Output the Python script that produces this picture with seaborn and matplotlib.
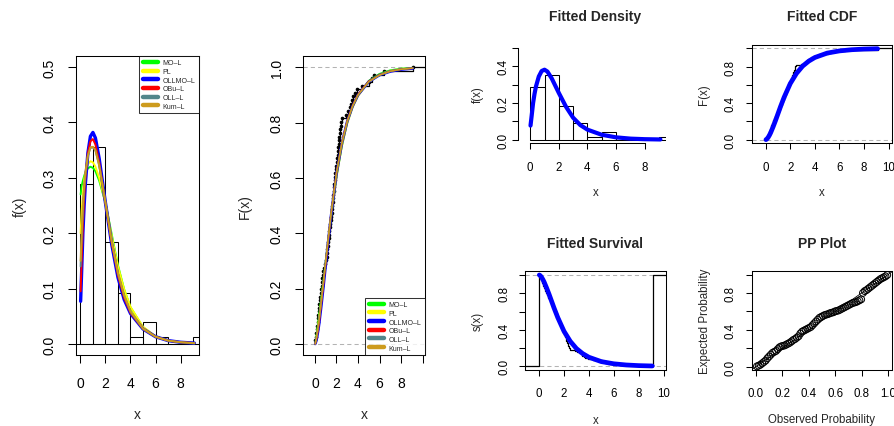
import numpy as np
import matplotlib
matplotlib.use("Agg")
import matplotlib.pyplot as plt
import seaborn as sns
from matplotlib.lines import Line2D

# ---- data ----
sample = [0.04, 0.07, 0.13, 0.15, 0.21, 0.24, 0.26, 0.31, 0.33, 0.39, 0.41,
          0.47, 0.49, 0.55, 0.57, 0.61, 0.66, 0.68, 0.75, 0.79, 0.88, 0.94,
          1.03, 1.08, 1.11, 1.16, 1.19, 1.22, 1.28, 1.31, 1.34, 1.40, 1.43,
          1.47, 1.52, 1.55, 1.57, 1.61, 1.64, 1.68, 1.70, 1.73, 1.77, 1.79,
          1.83, 1.85, 1.90, 1.93, 1.97,
          2.03, 2.06, 2.10, 2.13, 2.17, 2.20, 2.24, 2.27, 2.31, 2.35, 2.38,
          2.42, 2.48, 2.86,
          3.08, 3.22, 3.35, 3.47, 3.58, 3.71, 3.93,
          4.35, 5.05, 5.28, 5.52, 6.45, 9.12]
hist_breaks = [0, 1, 2, 3, 4, 5, 6, 7, 8, 9, 10]

x_grid = [0.02, 0.1, 0.2, 0.3, 0.4, 0.6, 0.8, 1.0, 1.2, 1.5, 2.0, 2.5, 3.0,
          3.5, 4.0, 5.0, 6.0, 7.0, 8.0, 9.1]

models = ["MO\u2013L", "PL", "OLLMO\u2013L", "OBu\u2013L", "OLL\u2013L", "Kum\u2013L"]
model_colors = ["#00FF00", "#FFFF00", "#0000FF", "#FF0000", "#53868B", "#CD9B1D"]

pdf_mol = [0.27, 0.285, 0.295, 0.303, 0.31, 0.317, 0.32, 0.318, 0.312, 0.295, 0.255,
           0.198, 0.142, 0.098, 0.066, 0.03, 0.013, 0.006, 0.0025, 0.001]
pdf_pl = [0.2, 0.24, 0.27, 0.295, 0.31, 0.325, 0.33, 0.328, 0.32, 0.3, 0.255,
          0.195, 0.14, 0.098, 0.067, 0.031, 0.014, 0.006, 0.0025, 0.001]
pdf_ollmo = [0.077, 0.13, 0.2, 0.25, 0.29, 0.345, 0.375, 0.382, 0.372, 0.335, 0.255,
             0.18, 0.12, 0.08, 0.055, 0.027, 0.013, 0.006, 0.003, 0.0015]
pdf_obu = [0.095, 0.15, 0.215, 0.265, 0.3, 0.345, 0.366, 0.37, 0.36, 0.328, 0.255,
           0.183, 0.124, 0.083, 0.056, 0.027, 0.013, 0.006, 0.003, 0.0015]
pdf_oll = [0.14, 0.19, 0.24, 0.28, 0.305, 0.34, 0.354, 0.355, 0.35, 0.323, 0.256,
           0.186, 0.128, 0.087, 0.058, 0.027, 0.013, 0.006, 0.003, 0.0013]
pdf_kum = [0.15, 0.2, 0.25, 0.285, 0.31, 0.34, 0.355, 0.356, 0.35, 0.322, 0.255,
           0.185, 0.128, 0.087, 0.059, 0.028, 0.013, 0.006, 0.003, 0.0013]

cdf_mol = [0.0, 0.023, 0.052, 0.082, 0.112, 0.175, 0.239, 0.303, 0.366, 0.458, 0.6,
           0.712, 0.797, 0.857, 0.898, 0.952, 0.977, 0.99, 0.996, 0.999]
cdf_pl = [0.0, 0.018, 0.044, 0.072, 0.102, 0.165, 0.23, 0.297, 0.362, 0.456, 0.6,
          0.712, 0.795, 0.853, 0.895, 0.948, 0.974, 0.988, 0.995, 0.998]
cdf_ollmo = [0.0, 0.008, 0.025, 0.048, 0.075, 0.14, 0.21, 0.285, 0.36, 0.465, 0.615,
             0.725, 0.805, 0.86, 0.9, 0.948, 0.972, 0.985, 0.992, 0.996]
cdf_obu = [0.0, 0.01, 0.028, 0.052, 0.08, 0.148, 0.218, 0.292, 0.365, 0.47, 0.617,
           0.727, 0.807, 0.862, 0.902, 0.95, 0.973, 0.986, 0.993, 0.997]
cdf_oll = [0.0, 0.013, 0.035, 0.061, 0.09, 0.156, 0.226, 0.297, 0.368, 0.47, 0.616,
           0.725, 0.804, 0.86, 0.9, 0.948, 0.972, 0.986, 0.993, 0.997]
cdf_kum = [0.0, 0.014, 0.036, 0.063, 0.093, 0.158, 0.228, 0.3, 0.37, 0.472, 0.617,
           0.726, 0.805, 0.86, 0.9, 0.948, 0.972, 0.986, 0.993, 0.997]

pp_expected = [0.003, 0.01, 0.02, 0.035, 0.05, 0.065, 0.09, 0.11, 0.13, 0.15,
               0.16, 0.17, 0.19, 0.21, 0.22, 0.225, 0.23, 0.24, 0.25, 0.26,
               0.275, 0.29, 0.30, 0.315, 0.33, 0.36, 0.38, 0.39, 0.40, 0.41,
               0.42, 0.43, 0.45, 0.47, 0.49, 0.51, 0.53, 0.54, 0.55, 0.56,
               0.565, 0.57, 0.58, 0.585, 0.59, 0.60, 0.605, 0.61, 0.62, 0.63,
               0.64, 0.65, 0.66, 0.67, 0.68, 0.69, 0.695, 0.70, 0.71, 0.72,
               0.73, 0.80, 0.82, 0.83, 0.845, 0.86, 0.875, 0.89, 0.905, 0.92,
               0.935, 0.95, 0.96, 0.97, 0.98, 0.995]

pdfs = [pdf_mol, pdf_pl, pdf_ollmo, pdf_obu, pdf_oll, pdf_kum]
cdfs = [cdf_mol, cdf_pl, cdf_ollmo, cdf_obu, cdf_oll, cdf_kum]
model_lw = [1.4, 1.4, 2.4, 1.4, 1.4, 1.4]

sample = np.array(sample)
n = len(sample)
ecdf_vals = np.arange(1, n + 1) / n
pp_observed = (np.arange(1, n + 1) - 0.5) / n
surv_ollmo = 1 - np.array(cdf_ollmo)

# ---- style ----
sns.set_style("ticks")
plt.rcParams["font.family"] = ["Liberation Sans", "DejaVu Sans"]
plt.rcParams["axes.linewidth"] = 0.75
plt.rcParams["axes.edgecolor"] = "black"

W, H = 895, 427
fig = plt.figure(figsize=(W / 100, H / 100), dpi=100)
fig.patch.set_facecolor("white")


def px_axes(l, t, r, b):
    ax = fig.add_axes([l / W, (H - b) / H, (r - l) / W, (b - t) / H])
    ax.set_facecolor("white")
    return ax


def r_ticks(ax, fs, length, xpad, ypad):
    ax.tick_params(direction="out", length=length, width=0.75, labelsize=fs,
                   colors="black")
    ax.tick_params(axis="x", pad=xpad)
    ax.tick_params(axis="y", pad=ypad)
    for lab in ax.get_yticklabels():
        lab.set_rotation(90)
        lab.set_va("center")


def labels(ax, box, xl, yl, xl_y, yl_x, fs):
    l, t, r, b = box
    ax.set_xlabel(xl, fontsize=fs)
    ax.set_ylabel(yl, fontsize=fs)
    ax.xaxis.set_label_coords(0.5, (b - xl_y) / (b - t))
    ax.yaxis.set_label_coords((yl_x - l) / (r - l), 0.5)
    ax.xaxis.label.set_va("center")
    ax.yaxis.label.set_va("center")
    ax.yaxis.label.set_ha("center")


def title(ax, box, text, y_px):
    l, t, r, b = box
    ax.set_title(text, y=(b - y_px) / (b - t), pad=0, va="center",
                 fontsize=10, fontweight="bold")


def model_legend(ax, loc):
    handles = [Line2D([], [], color=c, lw=3.2) for c in model_colors]
    leg = ax.legend(handles, models, loc=loc, fontsize=5.0, frameon=True,
                    fancybox=False, borderaxespad=0, handlelength=2.3,
                    handletextpad=0.6, labelspacing=0.24, borderpad=0.5)
    leg.get_frame().set_edgecolor("black")
    leg.get_frame().set_linewidth(0.75)


big, small = 10, 8.3

# ---- panel 1: densities ----
box1 = (76, 57, 199, 356)
ax1 = px_axes(*box1)
sns.histplot(x=sample, bins=hist_breaks, stat="density", fill=False,
             color="black", linewidth=0.75, ax=ax1)
ax1.axhline(0, color="black", lw=0.75)
for y, c, lw in zip(pdfs, model_colors, model_lw):
    sns.lineplot(x=x_grid, y=y, color=c, lw=lw, sort=False, estimator=None, ax=ax1)
ax1.set_xlim(-0.35, 9.47)
ax1.set_ylim(-0.02, 0.52)
ax1.set_xticks([0, 2, 4, 6, 8])
ax1.set_yticks([0, 0.1, 0.2, 0.3, 0.4, 0.5])
ax1.set_yticklabels(["0.0", "0.1", "0.2", "0.3", "0.4", "0.5"])
r_ticks(ax1, big, 5.8, 9.4, 8)
labels(ax1, box1, "x", "f(x)", 415, 20, big)
model_legend(ax1, "upper right")

# ---- panel 2: CDFs ----
box2 = (302.7, 57.3, 425, 356)
ax2 = px_axes(*box2)
ax2.axhline(0, color="#B3B3B3", lw=0.75, ls=(0, (4, 3)))
ax2.axhline(1, color="#B3B3B3", lw=0.75, ls=(0, (4, 3)))
sns.ecdfplot(x=sample, color="black", lw=0.9, ax=ax2)
ax2.hlines(1, sample.max(), 12, color="black", lw=0.9)
ax2.plot(sample, ecdf_vals, "o", ms=1.6, color="black")
for y, c, lw in zip(cdfs, model_colors, model_lw):
    sns.lineplot(x=x_grid, y=y, color=c, lw=lw * 0.8, sort=False, estimator=None, ax=ax2)
ax2.set_xlim(-1.14, 10.23)
ax2.set_ylim(-0.04, 1.04)
ax2.set_xticks([0, 2, 4, 6, 8, 10])
ax2.set_xticklabels(["0", "2", "4", "6", "8", ""])
ax2.set_yticks([0, 0.2, 0.4, 0.6, 0.8, 1.0])
ax2.set_yticklabels(["0.0", "0.2", "0.4", "0.6", "0.8", "1.0"])
r_ticks(ax2, big, 5.8, 9.4, 8)
labels(ax2, box2, "x", "F(x)", 415, 245, big)
model_legend(ax2, "lower right")

# ---- Fitted Density ----
box3 = (525, 45.4, 666, 144.4)
ax3 = px_axes(*box3)
sns.histplot(x=sample, bins=hist_breaks, stat="density", fill=False,
             color="black", linewidth=0.75, ax=ax3)
sns.lineplot(x=x_grid, y=pdf_ollmo, color="#0000FF", lw=3.0, sort=False,
             estimator=None, ax=ax3)
ax3.set_xlim(-0.365, 9.49)
ax3.set_ylim(-0.02, 0.52)
ax3.set_xticks([0, 2, 4, 6, 8])
ax3.set_yticks([0, 0.1, 0.2, 0.3, 0.4, 0.5])
ax3.set_yticklabels(["0.0", "", "0.2", "", "0.4", ""])
for s in ["top", "right"]:
    ax3.spines[s].set_visible(False)
ax3.spines["left"].set_position(("outward", 5))
ax3.spines["left"].set_bounds(0, 0.5)
ax3.spines["bottom"].set_bounds(0, 8)
r_ticks(ax3, small, 4.6, 8, 1.5)
labels(ax3, box3, "x", "f(x)", 193.3, 478, small)
title(ax3, box3, "Fitted Density", 17.3)

# ---- Fitted CDF ----
box4 = (751.7, 45.7, 891.7, 144.3)
ax4 = px_axes(*box4)
ax4.axhline(0, color="#B3B3B3", lw=0.75, ls=(0, (4, 3)))
ax4.axhline(1, color="#B3B3B3", lw=0.75, ls=(0, (4, 3)))
sns.ecdfplot(x=sample, color="black", lw=0.9, ax=ax4)
ax4.hlines(1, sample.max(), 12, color="black", lw=0.9)
sns.lineplot(x=x_grid, y=cdf_ollmo, color="#0000FF", lw=3.4, sort=False,
             estimator=None, ax=ax4)
ax4.set_xlim(-1.14, 10.25)
ax4.set_ylim(-0.04, 1.04)
ax4.set_xticks([0, 2, 4, 6, 8, 10])
ax4.set_yticks([0, 0.2, 0.4, 0.6, 0.8, 1.0])
ax4.set_yticklabels(["0.0", "", "0.4", "", "0.8", ""])
r_ticks(ax4, small, 4.6, 8, 6)
labels(ax4, box4, "x", "F(x)", 193.3, 704, small)
title(ax4, box4, "Fitted CDF", 17.3)

# ---- Fitted Survival ----
box5 = (525, 272.3, 666, 371)
ax5 = px_axes(*box5)
ax5.axhline(0, color="#B3B3B3", lw=0.75, ls=(0, (4, 3)))
ax5.axhline(1, color="#B3B3B3", lw=0.75, ls=(0, (4, 3)))
surv_x = np.r_[-2.0, 0.0, sample, sample.max(), 12.0]
surv_y = np.r_[0.0, 1.0, 1 - ecdf_vals, 1.0, 1.0]
ax5.step(surv_x, surv_y, where="post", color="black", lw=0.9)
sns.lineplot(x=x_grid, y=surv_ollmo, color="#0000FF", lw=3.4, sort=False,
             estimator=None, ax=ax5)
ax5.set_xlim(-1.13, 10.2)
ax5.set_ylim(-0.04, 1.04)
ax5.set_xticks([0, 2, 4, 6, 8, 10])
ax5.set_yticks([0, 0.2, 0.4, 0.6, 0.8, 1.0])
ax5.set_yticklabels(["0.0", "", "0.4", "", "0.8", ""])
r_ticks(ax5, small, 4.6, 8, 6)
labels(ax5, box5, "x", "s(x)", 420.7, 478, small)
title(ax5, box5, "Fitted Survival", 244.3)

# ---- PP Plot ----
box6 = (751.7, 272.3, 891.7, 371)
ax6 = px_axes(*box6)
ax6.axline((0, 0), slope=1, color="black", lw=0.6)
sns.scatterplot(x=pp_observed, y=pp_expected, marker="o", s=24,
                facecolor="none", edgecolor="black", linewidth=0.7, ax=ax6)
ax6.set_xlim(-0.033, 1.027)
ax6.set_ylim(-0.037, 1.035)
ax6.set_xticks([0, 0.2, 0.4, 0.6, 0.8, 1.0])
ax6.set_xticklabels(["0.0", "0.2", "0.4", "0.6", "0.8", "1.0"])
ax6.set_yticks([0, 0.2, 0.4, 0.6, 0.8, 1.0])
ax6.set_yticklabels(["0.0", "", "0.4", "", "0.8", ""])
r_ticks(ax6, small, 4.6, 8, 6)
labels(ax6, box6, "Observed Probability", "Expected Probability", 420, 705, small)
title(ax6, box6, "PP Plot", 244.3)

fig.savefig("out.png", dpi=100)
